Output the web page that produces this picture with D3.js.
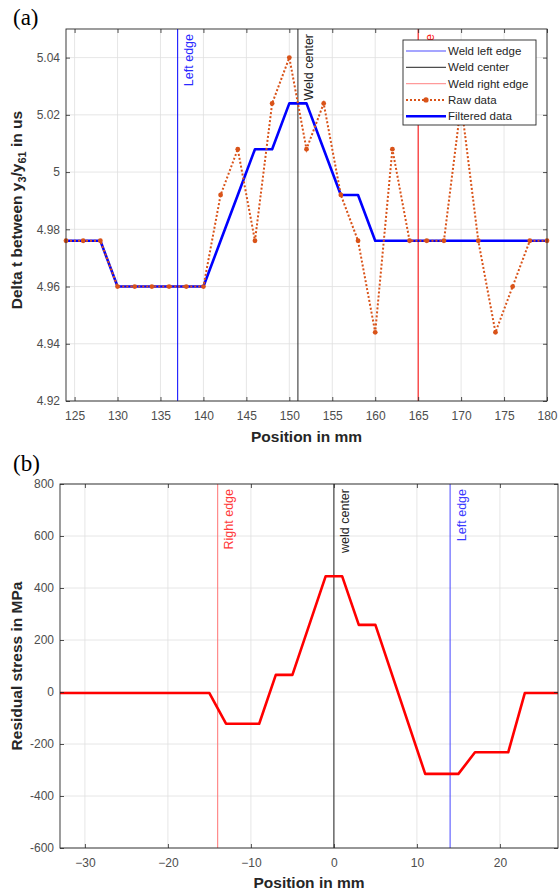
<!DOCTYPE html>
<html>
<head>
<meta charset="utf-8">
<script src="https://cdn.jsdelivr.net/npm/d3@7"></script>
<style>
  html, body { margin: 0; padding: 0; background: #fff; }
  svg { display: block; font-family: "Liberation Sans", Arial, sans-serif; }
</style>
</head>
<body>
<script>
// panel (a): time delay along the weld
const rawPos = [124, 126, 128, 130, 132, 134, 136, 138, 140, 142, 144, 146, 148, 150, 152,
  154, 156, 158, 160, 162, 164, 166, 168, 170, 172, 174, 176, 178, 180];
const rawVal = [4.976, 4.976, 4.976, 4.96, 4.96, 4.96, 4.96, 4.96, 4.96, 4.992, 5.008, 4.976, 5.024, 5.04, 5.008,
  5.024, 4.992, 4.976, 4.944, 5.008, 4.976, 4.976, 4.976, 5.024, 4.976, 4.944, 4.96, 4.976, 4.976];
const filtVal = [4.976, 4.976, 4.976, 4.96, 4.96, 4.96, 4.96, 4.96, 4.96, 4.976, 4.992, 5.008, 5.008, 5.024, 5.024,
  5.008, 4.992, 4.992, 4.976, 4.976, 4.976, 4.976, 4.976, 4.976, 4.976, 4.976, 4.976, 4.976, 4.976];
const topXTicks = [125, 130, 135, 140, 145, 150, 155, 160, 165, 170, 175, 180];
const topYTicks = [4.92, 4.94, 4.96, 4.98, 5, 5.02, 5.04];
const topEdges = [
  { pos: 137, label: "Left edge", line: "#0000ff", text: "#2a2aff" },
  { pos: 151, label: "Weld center", line: "#262626", text: "#262626" },
  { pos: 165, label: "Right edge", line: "#ff0000", text: "#ff2020" }
];
const legendNames = ["Weld left edge", "Weld center", "Weld right edge", "Raw data", "Filtered data"];

// panel (b): residual stress
const stressPos = [-33, -15, -13, -9, -7, -5, -1, 1, 3, 5, 11, 15, 17, 21, 23, 27];
const stressVal = [-4, -4, -122, -122, 66, 66, 445, 445, 258, 258, -315, -315, -232, -232, -4, -4];
const botXTicks = [-30, -20, -10, 0, 10, 20];
const botYTicks = [-600, -400, -200, 0, 200, 400, 600, 800];
const botEdges = [
  { pos: -14, label: "Right edge", line: "#ff7373", text: "#ff3a3a" },
  { pos: 0, label: "weld center", line: "#262626", text: "#262626" },
  { pos: 14, label: "Left edge", line: "#4646ff", text: "#3a3aff" }
];

const svg = d3.select("body").append("svg").attr("width", 559).attr("height", 892);

function makePanel(cfg) {
  const x = d3.scaleLinear().domain(cfg.xDomain).range([cfg.left, cfg.right]);
  const y = d3.scaleLinear().domain(cfg.yDomain).range([cfg.bottom, cfg.top]);
  const g = svg.append("g");

  g.append("g").selectAll("line").data(cfg.xTicks).join("line")
    .attr("x1", function (d) { return x(d); }).attr("x2", function (d) { return x(d); })
    .attr("y1", cfg.top).attr("y2", cfg.bottom)
    .attr("stroke", "#dfdfdf").attr("stroke-width", 0.8);
  g.append("g").selectAll("line").data(cfg.yTicks).join("line")
    .attr("y1", function (d) { return y(d); }).attr("y2", function (d) { return y(d); })
    .attr("x1", cfg.left).attr("x2", cfg.right)
    .attr("stroke", "#dfdfdf").attr("stroke-width", 0.8);

  // vertical marker lines with rotated labels
  cfg.edges.forEach(function (e) {
    g.append("line")
      .attr("x1", x(e.pos)).attr("x2", x(e.pos))
      .attr("y1", cfg.top).attr("y2", cfg.bottom)
      .attr("stroke", e.line).attr("stroke-width", 1);
    g.append("text")
      .attr("transform", "translate(" + (x(e.pos) + 15.5) + "," + (cfg.top + 5) + ") rotate(-90)")
      .attr("text-anchor", "end")
      .attr("font-size", 12.5)
      .attr("fill", e.text)
      .text(e.label);
  });

  return { g: g, x: x, y: y, cfg: cfg };
}

function styleTicks(g) {
  g.select(".domain").remove();
  g.selectAll("line").attr("stroke", "#262626").attr("stroke-width", 0.8);
  g.selectAll("text").attr("fill", "#4d4d4d").attr("font-size", 12)
    .attr("font-family", "'Liberation Sans', Arial, sans-serif");
}

function finishPanel(p, fmt) {
  const cfg = p.cfg;
  p.g.append("g").attr("transform", "translate(0," + cfg.bottom + ")")
    .call(d3.axisBottom(p.x).tickValues(cfg.xTicks).tickSizeInner(-4).tickSizeOuter(0).tickPadding(10))
    .call(styleTicks);
  p.g.append("g").attr("transform", "translate(0," + cfg.top + ")")
    .call(d3.axisTop(p.x).tickValues(cfg.xTicks).tickSizeInner(-4).tickSizeOuter(0).tickFormat(""))
    .call(styleTicks);
  p.g.append("g").attr("transform", "translate(" + cfg.left + ",0)")
    .call(d3.axisLeft(p.y).tickValues(cfg.yTicks).tickSizeInner(-4).tickSizeOuter(0).tickPadding(6).tickFormat(fmt))
    .call(styleTicks);
  p.g.append("g").attr("transform", "translate(" + cfg.right + ",0)")
    .call(d3.axisRight(p.y).tickValues(cfg.yTicks).tickSizeInner(-4).tickSizeOuter(0).tickFormat(""))
    .call(styleTicks);

  p.g.append("rect")
    .attr("x", cfg.left).attr("y", cfg.top)
    .attr("width", cfg.right - cfg.left).attr("height", cfg.bottom - cfg.top)
    .attr("fill", "none").attr("stroke", "#262626").attr("stroke-width", 0.9);

  p.g.append("text")
    .attr("x", (cfg.left + cfg.right) / 2).attr("y", cfg.xLabelY)
    .attr("text-anchor", "middle").attr("font-size", 15.5).attr("font-weight", "bold")
    .attr("fill", "#262626").text("Position in mm");

  p.g.append("text")
    .attr("x", 13).attr("y", cfg.tagY)
    .attr("font-family", "'Liberation Serif', 'Times New Roman', serif")
    .attr("font-size", 23).attr("fill", "#000").text(cfg.tag);
}

// ---- panel (a)
const pa = makePanel({
  left: 66, right: 547, top: 29, bottom: 401,
  xDomain: [124, 180], yDomain: [4.92, 5.05],
  xTicks: topXTicks, yTicks: topYTicks, edges: topEdges,
  xLabelY: 442, tag: "(a)", tagY: 25
});

const rawPts = rawPos.map(function (p, i) { return [p, rawVal[i]]; });
const filtPts = rawPos.map(function (p, i) { return [p, filtVal[i]]; });
const lineA = d3.line().x(function (d) { return pa.x(d[0]); }).y(function (d) { return pa.y(d[1]); });

pa.g.append("path").datum(filtPts).attr("d", lineA)
  .attr("fill", "none").attr("stroke", "#0000ff").attr("stroke-width", 2.6)
  .attr("stroke-linejoin", "round");
pa.g.append("path").datum(rawPts).attr("d", lineA)
  .attr("fill", "none").attr("stroke", "#d95319").attr("stroke-width", 2)
  .attr("stroke-dasharray", "2,2");
pa.g.append("g").selectAll("circle").data(rawPts).join("circle")
  .attr("cx", function (d) { return pa.x(d[0]); })
  .attr("cy", function (d) { return pa.y(d[1]); })
  .attr("r", 2.4).attr("fill", "#d95319");

// legend
const leg = pa.g.append("g").attr("transform", "translate(403,40)");
leg.append("rect").attr("width", 133).attr("height", 85)
  .attr("fill", "#fff").attr("stroke", "#262626").attr("stroke-width", 0.9);
const legStyles = [
  { stroke: "#4d4dff", width: 1.2, dash: null },
  { stroke: "#4d4d4d", width: 1.2, dash: null },
  { stroke: "#ff9a9a", width: 1.4, dash: null },
  { stroke: "#d95319", width: 2, dash: "2,2", marker: true },
  { stroke: "#0000ff", width: 2.6, dash: null }
];
legendNames.forEach(function (name, i) {
  const yy = 11 + i * 16.3;
  const s = legStyles[i];
  leg.append("line").attr("x1", 3).attr("x2", 43).attr("y1", yy).attr("y2", yy)
    .attr("stroke", s.stroke).attr("stroke-width", s.width)
    .attr("stroke-dasharray", s.dash);
  if (s.marker) {
    leg.append("circle").attr("cx", 23).attr("cy", yy).attr("r", 2.6).attr("fill", "#d95319");
  }
  leg.append("text").attr("x", 45).attr("y", yy + 4).attr("font-size", 11.5)
    .attr("fill", "#262626").text(name);
});

finishPanel(pa, function (d) { return String(+d.toFixed(2)); });

// y label with subscripts
const yla = svg.append("text")
  .attr("transform", "translate(22,210) rotate(-90)")
  .attr("text-anchor", "middle").attr("font-size", 15.5).attr("font-weight", "bold")
  .attr("fill", "#262626");
yla.append("tspan").text("Delta t between y");
yla.append("tspan").attr("dy", 4).attr("font-size", 11).text("3");
yla.append("tspan").attr("dy", -4).text("/y");
yla.append("tspan").attr("dy", 4).attr("font-size", 11).text("61");
yla.append("tspan").attr("dy", -4).text(" in us");

// ---- panel (b)
const pb = makePanel({
  left: 60, right: 558, top: 484, bottom: 848,
  xDomain: [-33, 27], yDomain: [-600, 800],
  xTicks: botXTicks, yTicks: botYTicks, edges: botEdges,
  xLabelY: 888, tag: "(b)", tagY: 471
});

const stressPts = stressPos.map(function (p, i) { return [p, stressVal[i]]; });
pb.g.append("path").datum(stressPts)
  .attr("d", d3.line().x(function (d) { return pb.x(d[0]); }).y(function (d) { return pb.y(d[1]); }))
  .attr("fill", "none").attr("stroke", "#ff0000").attr("stroke-width", 2.6)
  .attr("stroke-linejoin", "round");

finishPanel(pb, function (d) { return String(d); });

svg.append("text")
  .attr("transform", "translate(22,666) rotate(-90)")
  .attr("text-anchor", "middle").attr("font-size", 15.5).attr("font-weight", "bold")
  .attr("fill", "#262626").text("Residual stress in MPa");
</script>
</body>
</html>
